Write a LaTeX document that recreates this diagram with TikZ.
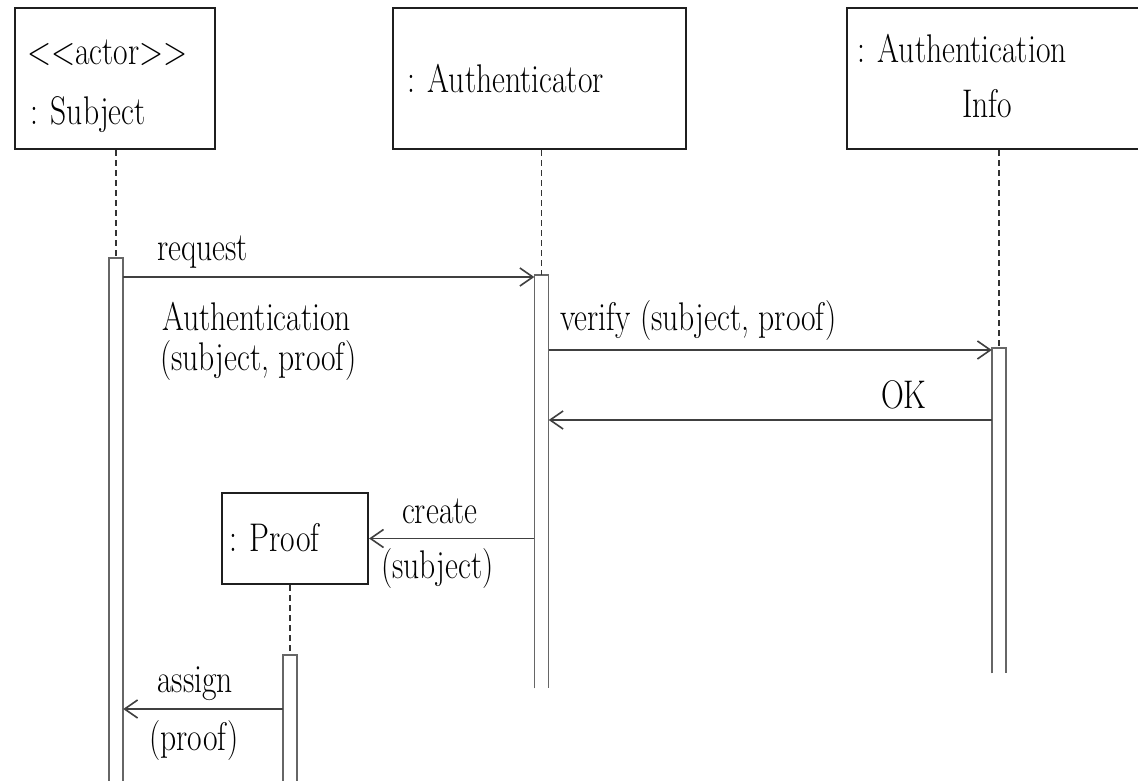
\documentclass[tikz,border=0pt]{standalone}
\usetikzlibrary{arrows.meta}
\begin{document}
\begin{tikzpicture}[x=1pt,y=-1pt,
  objbox/.style={draw=black!88,line width=2.2pt,rectangle,inner sep=0pt},
  txt/.style={anchor=base west,inner sep=0pt,text=black,xscale=0.79,transform shape,font=\rmfamily\fontsize{40}{46}\selectfont},
  lifeline/.style={draw=black!80,line width=1.5pt,dash pattern=on 6pt off 4pt},
  actbar/.style={draw=none,inner sep=0pt,minimum width=14pt},
  barline/.style={draw=black!60,line width=1.5pt},
  msg/.style={draw=black!75,line width=1.7pt,-{Straight Barb[length=13pt,width=18pt,line width=1.6pt]}}]
\useasboundingbox (0,0) rectangle (1138,781);
\clip (0,0) rectangle (1138,781);
\fill[white] (0,0) rectangle (1138,781);

% object boxes
\node[objbox,minimum width=200pt,minimum height=141pt] (subj) at (115,78.5) {};
\node[objbox,minimum width=293pt,minimum height=141pt] (auth) at (539.5,78.5) {};
\node[objbox,minimum width=303pt,minimum height=141pt] (info) at (998.5,78.5) {};
\node[objbox,minimum width=146pt,minimum height=91pt] (proof) at (295,538.5) {};

\node[txt] (t1) at (27,65) {<{}<actor>{}>};
\node[txt] (t2) at (30,125) {: Subject};
\node[txt] (t3) at (407,93) {: Authenticator};
\node[txt] (t4) at (857,63) {: Authentication};
\node[txt] (t5) at (962,118) {Info};
\node[txt] (t6) at (229,551) {: Proof};

% activation bars
\node[actbar,minimum height=523pt,anchor=north] (sb) at (116,258) {};
\node[actbar,minimum height=413pt,anchor=north] (ab) at (541.5,275) {};
\node[actbar,minimum height=325pt,anchor=north] (ib) at (999,348) {};
\node[actbar,minimum height=126pt,anchor=north] (pb) at (290,655) {};
\foreach \b in {sb,ab,ib,pb}{
  \draw[barline] (\b.south west) -- (\b.north west) -- (\b.north east) -- (\b.south east);
}

% lifelines
\draw[lifeline] (subj.south -| sb.north) -- (sb.north);
\draw[lifeline] (auth.south -| ab.north) -- (ab.north);
\draw[lifeline] (info.south -| ib.north) -- (ib.north);
\draw[lifeline] (proof.south -| pb.north) -- (pb.north);

% messages
\draw[msg] (sb.east |- 0,277) -- (ab.west |- 0,277);
\draw[msg] (ab.east |- 0,350) -- (ib.west |- 0,350);
\draw[msg] (ib.west |- 0,420) -- (ab.east |- 0,420);
\draw[msg] (ab.west |- proof.east) -- (proof.east);
\draw[msg] (pb.west |- 0,709) -- (sb.east |- 0,709);

% labels
\node[txt] (l1) at (157,260) {request};
\node[txt] (l2) at (162,330) {Authentication};
\node[txt] (l3) at (160,370) {(subject, proof)};
\node[txt] (l4) at (560,330) {verify (subject, proof)};
\node[txt] (l5) at (881,408) {OK};
\node[txt] (l6) at (402,523) {create};
\node[txt] (l7) at (381,578) {(subject)};
\node[txt] (l8) at (157,692) {assign};
\node[txt] (l9) at (149,750) {(proof)};
\end{tikzpicture}
\end{document}
